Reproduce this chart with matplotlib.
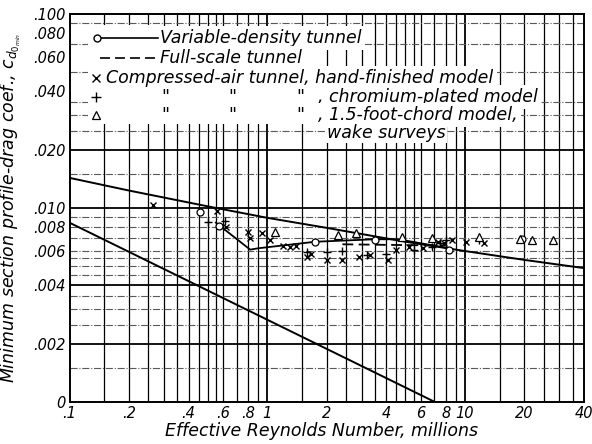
import matplotlib
matplotlib.use("Agg")
import matplotlib.pyplot as plt
from matplotlib.patches import Rectangle
from matplotlib.lines import Line2D

# ----- values (Reynolds number in millions, cd0 min) -----
turb_re = [0.1, 0.2, 0.5, 1, 2, 5, 10, 20, 40]
turb_cd = [0.0143, 0.0123, 0.0102, 0.0089, 0.0079, 0.0067, 0.0060, 0.0054, 0.0049]

lam_re = [0.1, 7.05]
lam_cd = [0.0084, 0.0010]

# variable-density tunnel: faired curve and test points
vdt_line_re = [0.55, 0.82, 0.9, 1.75, 3.5, 4.6, 8.3]
vdt_line_cd = [0.0084, 0.0061, 0.0062, 0.0067, 0.0069, 0.0069, 0.0062]
vdt_re = [0.456, 0.57, 1.75, 3.5, 8.35, 19.5]
vdt_cd = [0.0095, 0.0081, 0.0067, 0.0068, 0.0061, 0.0069]

# full-scale tunnel (dashed)
fst_re = [2.4, 8.0]
fst_cd = [0.0065, 0.0064]

# compressed-air tunnel, hand-finished model
caf_re = [0.264, 0.56, 0.62, 0.8, 0.94, 0.82, 1.03, 1.2, 1.3, 1.4, 1.58, 1.67,
          2.0, 2.4, 2.9, 3.3, 4.1, 4.5, 5.2, 6.1, 7.3, 7.8, 8.6, 10.1, 12.5]
caf_cd = [0.0104, 0.0097, 0.0080, 0.0075, 0.0074, 0.0070, 0.0068, 0.0064, 0.0063,
          0.0064, 0.0056, 0.0058, 0.0054, 0.0054, 0.0056, 0.0057, 0.0054, 0.0061,
          0.0063, 0.0062, 0.0067, 0.0066, 0.0068, 0.0067, 0.0066]

# compressed-air tunnel, chromium-plated model
cac_re = [0.5, 0.61, 1.58, 2.0, 2.4, 3.2, 4.0, 5.5, 6.8, 7.5, 8.0, 11.8]
cac_cd = [0.0085, 0.0086, 0.0059, 0.0059, 0.0060, 0.0057, 0.0058, 0.0061,
          0.0063, 0.0066, 0.0068, 0.0068]

# compressed-air tunnel, 1.5-foot-chord model, wake surveys
caw_re = [1.09, 2.27, 2.8, 4.8, 6.8, 11.8, 18.9, 21.8, 27.8]
caw_cd = [0.0075, 0.0073, 0.0074, 0.0071, 0.0070, 0.0071, 0.0069, 0.0068, 0.0068]

x_ticks = [0.1, 0.2, 0.4, 0.6, 0.8, 1, 2, 4, 6, 8, 10, 20, 40]
x_labels = ['.1', '.2', '.4', '.6', '.8', '1', '2', '4', '6', '8', '10', '20', '40']
y_ticks = [0.001, 0.002, 0.004, 0.006, 0.008, 0.010, 0.020, 0.040, 0.060, 0.080, 0.100]
y_labels = ['0', '.002', '.004', '.006', '.008', '.010', '.020', '.040', '.060', '.080', '.100']

# log-paper rulings
x_grid = [0.15, 0.2, 0.25, 0.3, 0.35, 0.4, 0.45, 0.5, 0.55, 0.6, 0.7, 0.8, 0.9,
          1, 1.5, 2, 2.5, 3, 3.5, 4, 4.5, 5, 5.5, 6, 7, 8, 9,
          10, 15, 20, 25, 30, 35]
y_grid_heavy = [0.002, 0.004, 0.010, 0.020]
y_grid_light = [0.0015, 0.0025, 0.003, 0.0035, 0.0045, 0.005, 0.0055, 0.006,
                0.007, 0.008, 0.009, 0.015, 0.025, 0.030, 0.035, 0.050, 0.070, 0.090]

FONT = dict(family='DejaVu Sans', style='italic')

fig = plt.figure(figsize=(5.92, 4.44), dpi=100)
ax = fig.add_axes([69.5 / 592, 42 / 444, 514.5 / 592, 388 / 444])
ax.set_xscale('log')
ax.set_yscale('log')
ax.set_xlim(0.1, 40)
ax.set_ylim(0.001, 0.1)

for x in x_grid:
    ax.axvline(x, color='k', lw=1.3 if x in (1, 10) else 0.9, zorder=1)
for y in y_grid_heavy:
    ax.axhline(y, color='k', lw=1.3, zorder=1)
for y in y_grid_light:
    ax.axhline(y, color='0.35', lw=0.8, ls='-.', zorder=1)

# curves
ax.plot(turb_re, turb_cd, color='k', lw=1.4, zorder=4)
ax.plot(lam_re, lam_cd, color='k', lw=1.4, zorder=4)
ax.plot(vdt_line_re, vdt_line_cd, color='k', lw=1.3, zorder=4)
ax.plot(fst_re, fst_cd, color='k', lw=1.3, ls=(0, (6, 3)), zorder=4)

# test points
mk = dict(color='k', ls='none', zorder=5)
ax.plot(vdt_re, vdt_cd, marker='o', ms=5, mfc='white', mew=0.9, **mk)
ax.plot(caf_re, caf_cd, marker='x', ms=5, mew=1.0, **mk)
ax.plot(cac_re, cac_cd, marker='+', ms=6, mew=1.0, **mk)
ax.plot(caw_re, caw_cd, marker='^', ms=5.5, mfc='white', mew=0.9, **mk)

# ticks
ax.set_xticks(x_ticks)
ax.set_xticklabels(x_labels, **FONT, fontsize=10.5)
ax.set_yticks(y_ticks)
ax.set_yticklabels(y_labels, **FONT, fontsize=10.5)
ax.minorticks_off()
ax.tick_params(length=0, pad=3)
for s in ax.spines.values():
    s.set_linewidth(1.4)
    s.set_zorder(6)

ax.set_xlabel('Effective Reynolds Number, millions', **FONT, fontsize=12.5)
ax.xaxis.set_label_coords(0.49, -0.052)
ax.set_ylabel(r'Minimum section profile-drag coef., $c_{d_{0_{min}}}$',
              **FONT, fontsize=12.5)
ax.yaxis.set_label_coords(-0.090, 0.5)

# hand-lettered key, blanking the ruling behind it
def px(x, y):
    return ((x - 69.5) / 514.5, (402 - y) / 388)

tr = ax.transAxes
for (x0, y0, x1, y1) in [(88, 25, 162, 124), (88, 87, 330, 124)]:
    a = px(x0, y1)
    b = px(x1, y0)
    ax.add_patch(Rectangle(a, b[0] - a[0], b[1] - a[1], transform=tr,
                           facecolor='white', edgecolor='none', zorder=2))

rows = [38, 58, 78, 97, 115, 133]
lfs = 12.5
box = dict(facecolor='white', edgecolor='none', pad=2.5)
ax.add_line(Line2D(*zip(px(101, rows[0]), px(158, rows[0])), transform=tr,
                   color='k', lw=1.2, zorder=5))
ax.plot(*px(97, rows[0]), transform=tr, marker='o', ms=5, mfc='white', **mk)
ax.text(*px(160, rows[0]), 'Variable-density tunnel', transform=tr,
        va='center', fontsize=lfs, zorder=3, bbox=box, **FONT)
ax.add_line(Line2D(*zip(px(100, rows[1]), px(157, rows[1])), transform=tr,
                   color='k', lw=1.2, ls=(0, (6, 3)), zorder=5))
ax.text(*px(160, rows[1]), 'Full-scale tunnel', transform=tr,
        va='center', fontsize=lfs, zorder=3, bbox=box, **FONT)
ax.plot(*px(96, rows[2]), transform=tr, marker='x', ms=6, mew=1.0, **mk)
ax.text(*px(106, rows[2]), 'Compressed-air tunnel, hand-finished model',
        transform=tr, va='center', fontsize=lfs, zorder=3, bbox=box, **FONT)
ax.plot(*px(96, rows[3]), transform=tr, marker='+', ms=7, mew=1.0, **mk)
ax.plot(*px(96, rows[4]), transform=tr, marker='^', ms=6, mfc='white', mew=0.9, **mk)
for r, txt in [(rows[3], ', chromium-plated model'),
               (rows[4], ', 1.5-foot-chord model,')]:
    for xd in (165, 232, 300):
        ax.text(*px(xd, r), '"', transform=tr, va='center', ha='center',
                fontsize=lfs, zorder=5, **FONT)
    ax.text(*px(318, r), txt, transform=tr, va='center', fontsize=lfs,
            zorder=3, bbox=box, **FONT)
ax.text(*px(327, rows[5]), 'wake surveys', transform=tr, va='center',
        fontsize=lfs, zorder=3, bbox=dict(facecolor='white', edgecolor='none', pad=1),
        **FONT)

fig.savefig('out.png', dpi=100)
